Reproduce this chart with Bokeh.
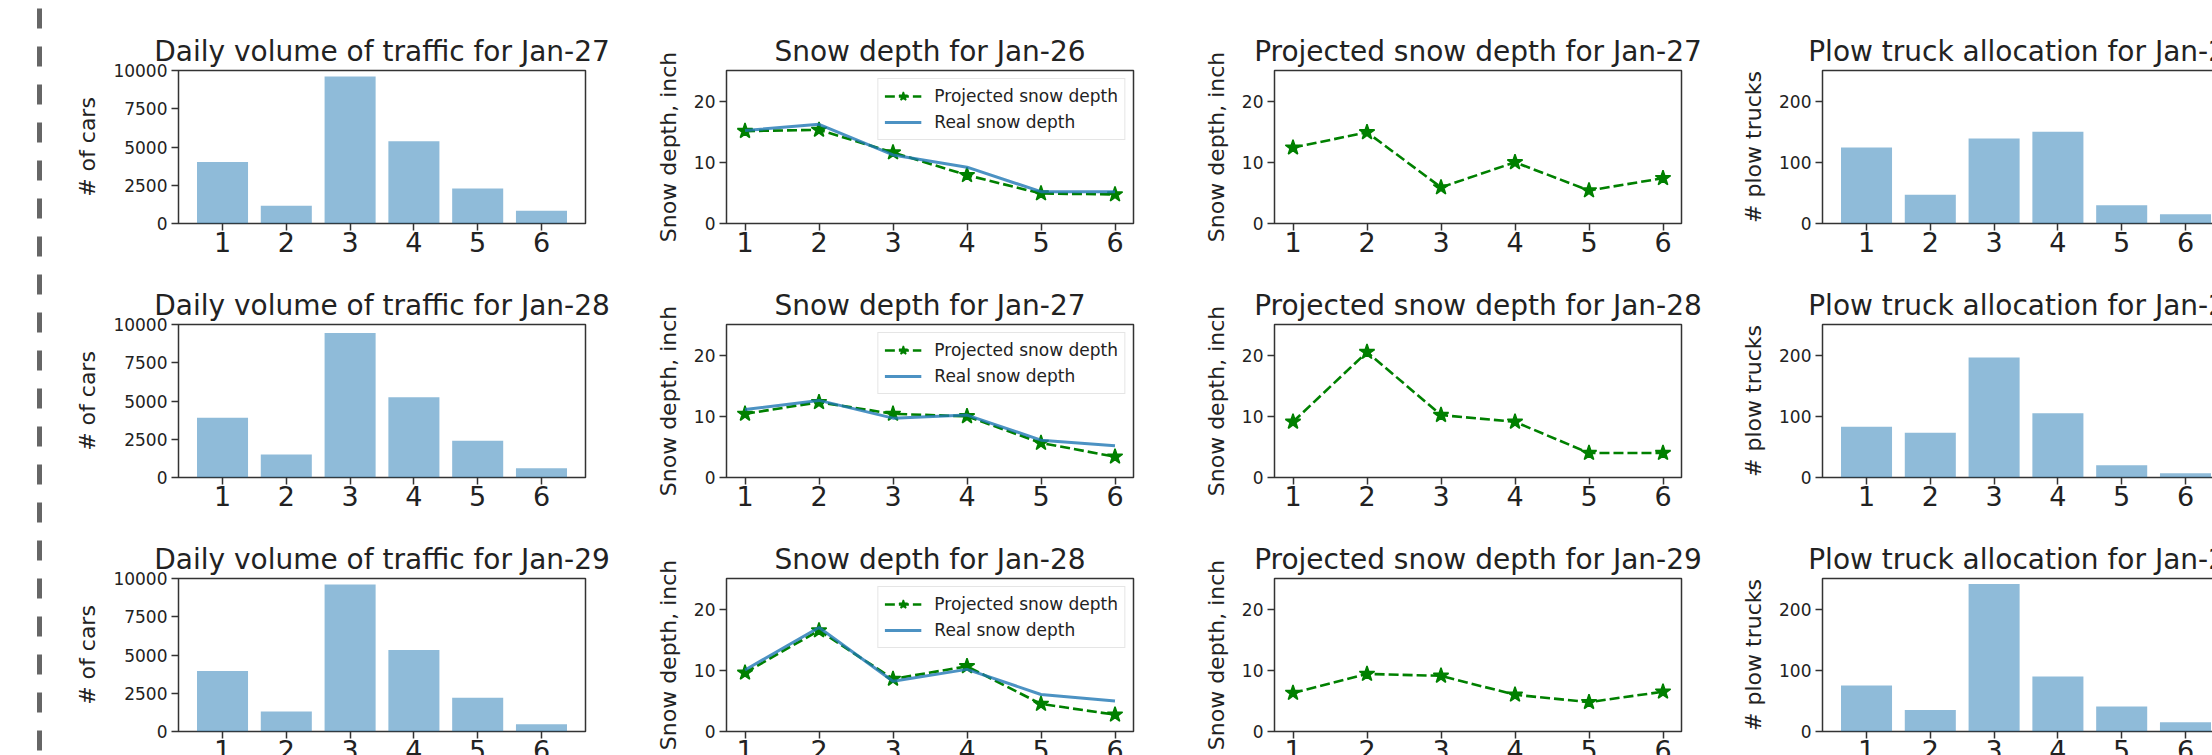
from bokeh.plotting import figure
from bokeh.layouts import row, column
from bokeh.models import FixedTicker, LinearAxis, Range1d
from bokeh.embed import file_html
from bokeh.resources import INLINE

# ---------------- data ----------------
days = [1, 2, 3, 4, 5, 6]

traffic_dates = ["Jan-27", "Jan-28", "Jan-29"]
traffic_jan27 = [4020, 1160, 9610, 5380, 2290, 830]
traffic_jan28 = [3900, 1500, 9450, 5250, 2400, 600]
traffic_jan29 = [3950, 1300, 9600, 5330, 2210, 480]

snow_dates = ["Jan-26", "Jan-27", "Jan-28"]
proj_snow_jan26 = [15.1, 15.3, 11.6, 7.9, 4.9, 4.75]
real_snow_jan26 = [15.2, 16.2, 11.2, 9.2, 5.2, 5.2]
proj_snow_jan27 = [10.4, 12.3, 10.4, 10.0, 5.65, 3.4]
real_snow_jan27 = [11.1, 12.6, 9.7, 10.2, 6.1, 5.2]
proj_snow_jan28 = [9.6, 16.5, 8.6, 10.65, 4.5, 2.75]
real_snow_jan28 = [10.05, 17.0, 8.2, 10.15, 6.05, 5.0]

next_dates = ["Jan-27", "Jan-28", "Jan-29"]
next_proj_jan27 = [12.4, 14.9, 5.9, 10.0, 5.4, 7.4]
next_proj_jan28 = [9.1, 20.5, 10.2, 9.1, 4.0, 4.0]
next_proj_jan29 = [6.3, 9.4, 9.1, 6.0, 4.8, 6.5]

plow_dates = ["Jan-27", "Jan-28", "Jan-29"]
plow_jan27 = [124, 47, 139, 150, 30, 15]
plow_jan28 = [83, 73, 196, 105, 20, 7]
plow_jan29 = [75, 35, 241, 90, 41, 15]

traffic_ticks = [0, 2500, 5000, 7500, 10000]
snow_ticks = [0, 10, 20]
plow_ticks = [0, 100, 200]

# ---------------- style ----------------
FONT = "DejaVu Sans"
TXT = "#222222"
SPINE = "#333333"
BAR = "#1f77b4"
GREEN = "#008000"


def base_fig(title, x_range, y_range, yticks, ylabel, top):
    p = figure(frame_width=407, frame_height=153,
               min_border_left=109, min_border_right=32,
               min_border_top=top, min_border_bottom=39,
               x_range=Range1d(*x_range), y_range=Range1d(*y_range),
               output_backend="svg", toolbar_location=None,
               background_fill_color="white", border_fill_color="white")
    p.title.text = title
    p.title.align = "center"
    p.title.text_font = FONT
    p.title.text_font_size = "28px"
    p.title.text_font_style = "normal"
    p.title.text_color = TXT
    p.title.standoff = 6
    p.outline_line_color = SPINE
    p.outline_line_width = 1.5
    p.xgrid.visible = False
    p.ygrid.visible = False
    p.xaxis.ticker = FixedTicker(ticks=days)
    p.yaxis.ticker = FixedTicker(ticks=yticks)
    for ax in (p.xaxis, p.yaxis):
        ax.axis_line_color = None
        ax.major_tick_line_color = SPINE
        ax.major_tick_line_width = 1.5
        ax.major_tick_out = 7
        ax.major_tick_in = 0
        ax.minor_tick_line_color = None
        ax.major_label_text_font = FONT
        ax.major_label_text_color = TXT
    p.xaxis.major_label_text_font_size = "27px"
    p.xaxis.major_label_standoff = 1
    p.yaxis.major_label_text_font_size = "17px"
    p.yaxis.major_label_standoff = 4
    p.yaxis.axis_label = ylabel
    p.yaxis.axis_label_text_font = FONT
    p.yaxis.axis_label_text_font_size = "22px"
    p.yaxis.axis_label_text_font_style = "normal"
    p.yaxis.axis_label_text_color = TXT
    p.yaxis.axis_label_standoff = 10
    return p


def bar_fig(title, vals, yrange, yticks, ylabel, top):
    p = base_fig(title, (0.31, 6.69), yrange, yticks, ylabel, top)
    p.vbar(x=days, top=vals, width=0.8, fill_color=BAR, fill_alpha=0.5,
           line_color=None)
    return p


def snow_fig(title, proj, real, top):
    p = base_fig(title, (0.75, 6.25), (0, 25), snow_ticks, "Snow depth, inch", top)
    p.line(days, proj, line_color=GREEN, line_dash="10 4", line_width=2.6,
           legend_label="Projected snow depth")
    p.scatter(days, proj, marker="star", size=16, fill_color=GREEN,
              line_color=GREEN, line_width=1.5, legend_label="Projected snow depth")
    p.line(days, real, line_color=BAR, line_alpha=0.8, line_width=3,
           legend_label="Real snow depth")
    lg = p.legend[0]
    lg.location = "top_right"
    lg.margin = 8
    lg.padding = 6
    lg.spacing = 4
    lg.label_text_font = FONT
    lg.label_text_font_size = "17px"
    lg.label_text_color = TXT
    lg.glyph_width = 37
    lg.glyph_height = 22
    lg.label_height = 22
    lg.label_standoff = 13
    lg.border_line_color = "#cccccc"
    lg.border_line_width = 1
    lg.background_fill_alpha = 0.8
    return p


def proj_fig(title, proj, top):
    p = base_fig(title, (0.75, 6.25), (0, 25), snow_ticks, "Snow depth, inch", top)
    p.line(days, proj, line_color=GREEN, line_dash="10 4", line_width=2.6)
    p.scatter(days, proj, marker="star", size=16, fill_color=GREEN,
              line_color=GREEN, line_width=1.5)
    return p


traffic = [traffic_jan27, traffic_jan28, traffic_jan29]
snow = [(proj_snow_jan26, real_snow_jan26), (proj_snow_jan27, real_snow_jan27),
        (proj_snow_jan28, real_snow_jan28)]
nxt = [next_proj_jan27, next_proj_jan28, next_proj_jan29]
plow = [plow_jan27, plow_jan28, plow_jan29]

rows = []
for i in range(3):
    top = 70 if i == 0 else 62
    f1 = bar_fig("Daily volume of traffic for " + traffic_dates[i], traffic[i],
                 (0, 10000), traffic_ticks, "# of cars", top)
    f2 = snow_fig("Snow depth for " + snow_dates[i], *snow[i], top)
    f3 = proj_fig("Projected snow depth for " + next_dates[i], nxt[i], top)
    f4 = bar_fig("Plow truck allocation for " + plow_dates[i], plow[i],
                 (0, 250), plow_ticks, "# plow trucks", top)
    rows.append(row(f1, f2, f3, f4))

# dashed divider on the left
d = figure(width=69, height=755, x_axis_type=None, y_axis_type=None,
           x_range=Range1d(0, 1), y_range=Range1d(0, 1),
           min_border_left=39, min_border_right=0, min_border_top=5,
           min_border_bottom=5, outline_line_color=None,
           output_backend="svg", toolbar_location=None)
div_axis = LinearAxis(ticker=FixedTicker(ticks=[]), axis_line_color="#666666",
                      axis_line_width=5, axis_line_dash="20 18",
                      major_tick_line_color=None, minor_tick_line_color=None,
                      major_label_text_font_size="0px")
d.add_layout(div_axis, "left")

layout = row(d, column(*rows))

open("out.html", "w").write(file_html(layout, INLINE))
